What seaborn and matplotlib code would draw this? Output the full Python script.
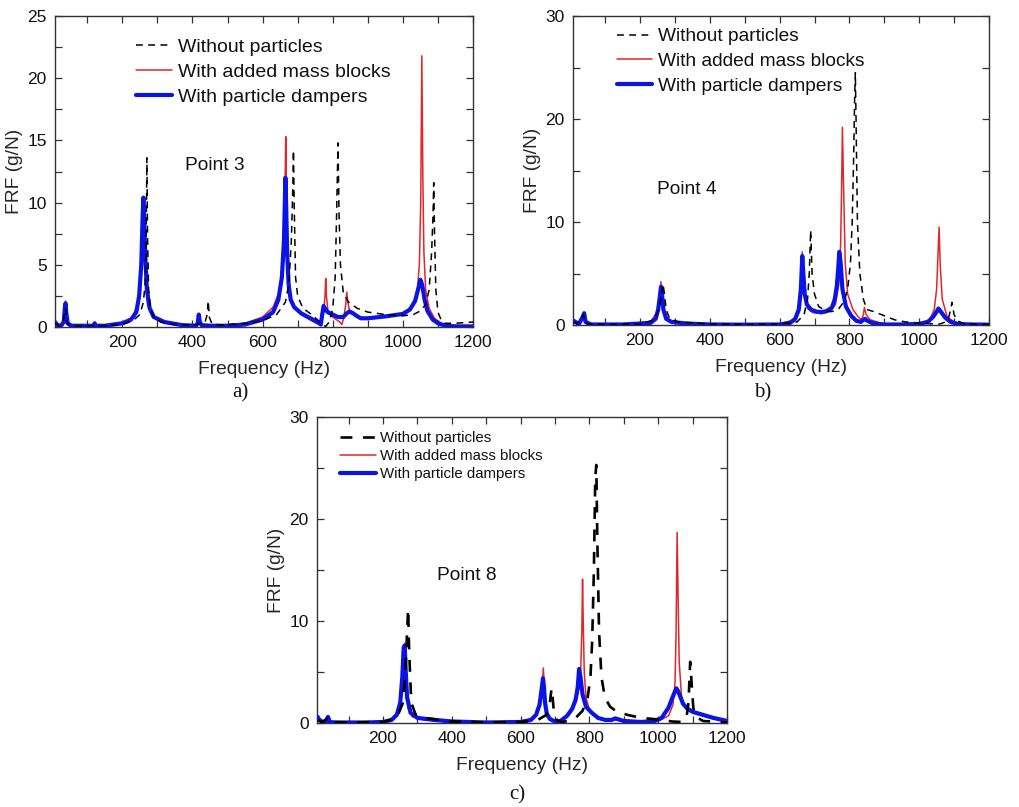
import numpy as np
import pandas as pd
import matplotlib
matplotlib.use("Agg")
import matplotlib.pyplot as plt
from matplotlib.ticker import MultipleLocator
import seaborn as sns

# ---------------- data ----------------
# Panel a) Point 3
a_black_f = [8, 20, 30, 38, 42, 50, 100, 150, 200, 230, 250, 260, 265, 268, 270, 272, 275, 280, 290, 310, 350, 400,
             435, 442, 445, 448, 455, 480, 550, 600, 640, 665, 675, 682, 686, 688, 690, 694, 700, 715, 740, 760, 770,
             780, 790, 800, 807, 811, 815, 818, 822, 830, 845, 870, 900, 950, 1000, 1030, 1050, 1065, 1075, 1082,
             1086, 1088, 1090, 1094, 1100, 1110, 1120, 1150, 1200]
a_black_v = [0.3, 0.1, 0.2, 1.5, 0.3, 0.1, 0.1, 0.1, 0.2, 0.5, 1.0, 2.0, 3.5, 7, 13.6, 7, 3, 1.5, 0.8, 0.4, 0.2, 0.15,
             0.3, 1.0, 2.1, 0.8, 0.3, 0.15, 0.3, 0.5, 1.0, 2.0, 3.5, 7, 11, 14.2, 10, 4, 2.5, 1.5, 1.0, 0.5, 0.2,
             0.05, 0.4, 1.5, 4, 9, 14.8, 9, 5, 2.8, 2.0, 1.5, 1.2, 1.0, 0.9, 1.0, 1.3, 1.8, 3, 6,
             9, 11.6, 8, 3, 1.2, 0.5, 0.3, 0.3, 0.4]

a_red_f = [8, 20, 30, 38, 42, 50, 100, 150, 200, 230, 245, 252, 256, 260, 263, 266, 272, 285, 310, 350, 400, 414, 418,
           422, 430, 500, 550, 600, 630, 650, 658, 663, 666, 668, 670, 673, 678, 690, 710, 740, 760, 768, 774, 778,
           780, 782, 786, 795, 810, 820, 826, 832, 837, 840, 843, 848, 860, 880, 900, 950, 1000, 1025, 1040, 1047,
           1051, 1054, 1057, 1060, 1065, 1075, 1090, 1110, 1130, 1160, 1200]
a_red_v = [0.5, 0.1, 0.2, 2.1, 0.3, 0.1, 0.1, 0.1, 0.3, 0.8, 2.0, 4, 7, 10.2, 8, 4, 1.8, 0.8, 0.4, 0.15, 0.1, 0.3, 0.9,
           0.3, 0.1, 0.1, 0.3, 0.8, 1.6, 3, 5, 9, 15.3, 11, 7, 4, 2.5, 1.6, 1.0, 0.5, 0.2, 0.3, 1.2, 2.5,
           3.9, 2.5, 1.4, 0.9, 0.6, 0.4, 0.2, 0.8, 1.8, 2.8, 2.0, 1.3, 1.0, 0.7, 0.7, 0.8, 1.1, 1.6, 2.5, 5,
           10, 21.8, 12, 6, 3, 1.5, 0.7, 0.3, 0.15, 0.1, 0.05]

a_blue_f = [8, 15, 25, 33, 36, 38, 40, 44, 55, 100, 118, 121, 124, 150, 200, 225, 240, 248, 254, 258, 260, 262, 265,
            270, 278, 290, 320, 370, 410, 415, 418, 421, 426, 450, 500, 550, 600, 630, 645, 655, 661, 665, 667, 670,
            674, 680, 690, 710, 730, 750, 762, 766, 770, 774, 778, 785, 800, 815, 830, 840, 848, 858, 868, 880, 900,
            950, 1000, 1020, 1035, 1045, 1050, 1055, 1062, 1070, 1085, 1100, 1120, 1150, 1200]
a_blue_v = [0.4, 0.15, 0.1, 0.4, 1.5, 1.9, 1.2, 0.3, 0.1, 0.1, 0.1, 0.3, 0.1, 0.1, 0.3, 0.6, 1.2, 2.5, 5, 9, 10.4, 9, 6,
            3, 1.5, 0.8, 0.4, 0.15, 0.1, 0.3, 1.0, 0.4, 0.15, 0.1, 0.1, 0.2, 0.6, 1.2, 2.2, 4, 7, 12, 10, 6,
            3.5, 2.2, 1.6, 1.1, 0.8, 0.5, 0.3, 0.2, 1.0, 1.7, 1.5, 1.2, 1.0, 0.8, 0.8, 1.1, 1.25, 1.1, 0.9, 0.7, 0.7,
            0.85, 1.05, 1.4, 2.1, 3.2, 3.8, 3.4, 2.2, 1.3, 0.6, 0.3, 0.1, 0.05, 0.05]

# Panel b) Point 4
b_black_f = [10, 20, 38, 42, 50, 100, 200, 240, 255, 262, 266, 270, 275, 285, 310, 400, 500, 600, 650, 670, 680, 685,
             689, 693, 700, 712, 730, 750, 770, 785, 795, 803, 808, 812, 815, 817, 819, 823, 830, 840, 850, 870, 900,
             930, 960, 1000, 1040, 1060, 1075, 1085, 1090, 1094, 1100, 1110, 1130, 1200]
b_black_v = [0.3, 0.1, 1.0, 0.2, 0.1, 0.05, 0.1, 0.5, 1.5, 3.0, 4.0, 3.0, 1.5, 0.6, 0.3, 0.1, 0.05, 0.1, 0.3, 1.0, 2.5,
             5, 9.2, 5, 3, 1.8, 1.4, 1.3, 1.6, 2.3, 3.5, 6, 10, 16, 22, 24.5, 20, 10, 5, 2.5, 1.5, 1.3, 0.9,
             0.5, 0.3, 0.2, 0.1, 0.1, 0.3, 0.8, 1.5, 2.2, 1.0, 0.4, 0.1, 0.05]

b_red_f = [10, 20, 36, 40, 44, 60, 150, 230, 248, 256, 260, 263, 268, 280, 310, 400, 500, 600, 640, 652, 660, 665, 668,
           672, 680, 695, 720, 745, 760, 770, 775, 778, 780, 783, 788, 795, 810, 825, 835, 840, 843, 848, 860, 880,
           900, 950, 1000, 1030, 1043, 1050, 1054, 1057, 1060, 1066, 1080, 1100, 1130, 1200]
b_red_v = [0.3, 0.1, 0.8, 1.1, 0.3, 0.05, 0.05, 0.3, 1.2, 2.5, 4.2, 3, 1.2, 0.5, 0.2, 0.05, 0.05, 0.1, 0.5, 1.5, 3.5,
           7.1, 5, 2.6, 1.6, 1.2, 1.1, 1.3, 2, 4, 8, 14, 19.2, 14, 6, 3, 1.5, 0.8, 0.5, 1.0, 1.7, 1.0, 0.5, 0.3,
           0.1, 0.1, 0.15, 0.5, 1.5, 3.5, 7, 9.5, 6, 2.5, 0.8, 0.3, 0.1, 0.05]

b_blue_f = [10, 15, 25, 36, 40, 44, 60, 150, 230, 245, 252, 257, 260, 263, 267, 275, 290, 330, 400, 500, 600, 630, 645,
            655, 661, 665, 668, 672, 678, 690, 705, 720, 735, 750, 758, 764, 768, 771, 775, 780, 790, 805, 820, 833,
            840, 845, 852, 865, 880, 900, 950, 1000, 1025, 1040, 1050, 1055, 1062, 1075, 1090, 1110, 1150, 1200]
b_blue_v = [0.4, 0.3, 0.1, 0.8, 1.15, 0.3, 0.05, 0.05, 0.2, 0.6, 1.5, 2.8, 3.7, 3.0, 1.5, 0.6, 0.3, 0.15, 0.05, 0.03,
            0.05, 0.2, 0.6, 1.5, 3.5, 6.7, 5, 3, 2.0, 1.5, 1.3, 1.25, 1.35, 1.7, 2.5, 3.8, 5.5, 7.1, 6, 3.5, 1.8,
            0.9, 0.4, 0.3, 0.5, 0.6, 0.4, 0.2, 0.1, 0.05, 0.05, 0.1, 0.3, 0.8, 1.3, 1.6, 1.3, 0.7, 0.3, 0.1, 0.05,
            0.03]

# Panel c) Point 8
c_black_f = [10, 20, 30, 40, 50, 100, 200, 240, 258, 265, 270, 273, 276, 282, 295, 320, 400, 500, 600, 650, 675, 685,
             690, 693, 697, 705, 720, 740, 760, 780, 795, 803, 808, 813, 817, 820, 823, 828, 835, 845, 860, 880, 910,
             950, 1000, 1040, 1070, 1082, 1088, 1093, 1097, 1102, 1110, 1130, 1200]
c_black_v = [0.3, 0.1, 0.2, 0.6, 0.1, 0.05, 0.1, 0.5, 2.0, 5, 9, 11.2, 7, 2, 0.8, 0.5, 0.15, 0.05, 0.1, 0.3, 0.8, 2,
             3.4, 2.5, 1.0, 0.3, 0.1, 0.2, 0.5, 1.2, 2.5, 4.5, 8, 15, 24, 25.3, 18, 9, 4.5, 2.5, 1.6, 1.1, 0.8,
             0.5, 0.35, 0.15, 0.1, 0.5, 2, 6.0, 4, 1.5, 0.6, 0.2, 0.05]

c_red_f = [10, 20, 40, 50, 150, 220, 245, 255, 260, 263, 266, 272, 285, 320, 400, 500, 600, 640, 655, 662, 666, 669,
           672, 678, 690, 700, 720, 745, 760, 770, 775, 778, 780, 782, 785, 790, 800, 820, 850, 870, 880, 900, 950,
           970, 1000, 1030, 1043, 1049, 1052, 1055, 1058, 1061, 1068, 1080, 1100, 1130, 1160, 1200]
c_red_v = [0.5, 0.1, 0.5, 0.1, 0.05, 0.2, 1.2, 3.5, 7.5, 7.8, 5, 1.5, 0.6, 0.3, 0.1, 0.05, 0.1, 0.5, 1.5, 3, 5.4, 3.5,
           1.5, 0.6, 0.2, 0.15, 0.3, 1.0, 2.0, 3.5, 5.5, 9, 14.1, 10, 5, 2.5, 1.3, 0.6, 0.3, 0.35, 0.3, 0.15, 0.05,
           0.05, 0.2, 0.7, 1.8, 4, 9, 18.7, 12, 6, 2.5, 1.4, 1.0, 0.7, 0.45, 0.15]

c_blue_f = [10, 15, 25, 35, 40, 45, 60, 150, 200, 225, 240, 250, 256, 260, 263, 266, 270, 280, 300, 350, 400, 500, 600,
            630, 645, 655, 661, 665, 668, 671, 676, 685, 700, 710, 720, 735, 750, 760, 766, 770, 774, 780, 790, 807,
            825, 846, 865, 875, 885, 900, 950, 990, 1010, 1030, 1045, 1053, 1058, 1064, 1072, 1085, 1100, 1130, 1160,
            1200]
c_blue_v = [0.6, 0.3, 0.1, 0.2, 0.6, 0.1, 0.05, 0.05, 0.1, 0.3, 0.8, 2, 4.5, 7.4, 7.6, 5, 2.5, 1.0, 0.5, 0.3, 0.15,
            0.05, 0.1, 0.3, 0.8, 1.8, 3.3, 4.4, 3.5, 2.0, 0.9, 0.4, 0.15, 0.1, 0.3, 0.7, 1.4, 2.3, 3.5, 5.3, 4.5, 2.8,
            1.6, 1.0, 0.5, 0.3, 0.3, 0.45, 0.35, 0.2, 0.1, 0.2, 0.5, 1.5, 2.8, 3.4, 3.1, 2.6, 1.9, 1.4, 1.1, 0.8, 0.5,
            0.2]

series_labels = ["Without particles", "With added mass blocks", "With particle dampers"]
point_labels = ["Point 3", "Point 4", "Point 8"]
panel_tags = ["a)", "b)", "c)"]
x_ticks = [200, 400, 600, 800, 1000, 1200]

# ---------------- styling ----------------
sns.set_style("ticks")
plt.rcParams["font.family"] = ["Liberation Sans", "DejaVu Sans"]
plt.rcParams["axes.linewidth"] = 1.0
plt.rcParams["axes.edgecolor"] = "#333333"

RED = "#e0262b"
BLUE = "#0a14e6"

fig = plt.figure(figsize=(10.2, 8.07), dpi=100)

panels = [
    dict(rect=[55 / 1020, 1 - 327 / 807, 418 / 1020, 311 / 807], ymax=25, ymaj=5, ymin=2.5,
         data=[(a_black_f, a_black_v), (a_red_f, a_red_v), (a_blue_f, a_blue_v)],
         text_xy=(215, 165), tag_xy=(240, 393), leg_fs=14, leg_anchor=(136, 38), dash=(0, (4.5, 3.5)), blw=1.1,
         leg_hl=1.85, leg_sp=0.38),
    dict(rect=[573 / 1020, 1 - 325 / 807, 416 / 1020, 309 / 807], ymax=30, ymaj=10, ymin=5,
         data=[(b_black_f, b_black_v), (b_red_f, b_red_v), (b_blue_f, b_blue_v)],
         text_xy=(687, 190), tag_xy=(763, 393), leg_fs=13.8, leg_anchor=(617, 28), dash=(0, (4.5, 3.5)), blw=1.1,
         leg_hl=1.85, leg_sp=0.38),
    dict(rect=[317 / 1020, 1 - 723 / 807, 410 / 1020, 306 / 807], ymax=30, ymaj=10, ymin=5,
         data=[(c_black_f, c_black_v), (c_red_f, c_red_v), (c_blue_f, c_blue_v)],
         text_xy=(467, 575), tag_xy=(517, 795), leg_fs=10.8, leg_anchor=(340, 431), dash=(0, (4.5, 4)), blw=1.9,
         leg_hl=2.4, leg_sp=0.27),
]

for i, p in enumerate(panels):
    ax = fig.add_axes(p["rect"])
    (bf, bv), (rf, rv), (uf, uv) = p["data"]
    sns.lineplot(x=bf, y=bv, ax=ax, color="black", lw=p["blw"], linestyle=p["dash"], label=series_labels[0],
                 estimator=None, zorder=4)
    sns.lineplot(x=rf, y=rv, ax=ax, color=RED, lw=1.1, label=series_labels[1], estimator=None, zorder=2)
    sns.lineplot(x=uf, y=uv, ax=ax, color=BLUE, lw=3.0, label=series_labels[2], estimator=None, zorder=3)

    ax.set_xlim(8, 1200)
    ax.set_ylim(0, p["ymax"])
    ax.set_xticks(x_ticks)
    ax.xaxis.set_minor_locator(MultipleLocator(100))
    ax.yaxis.set_major_locator(MultipleLocator(p["ymaj"]))
    ax.yaxis.set_minor_locator(MultipleLocator(p["ymin"]))
    ax.tick_params(which="both", direction="in", top=True, right=True, labelsize=12.5, colors="#333333",
                   labelcolor="#111111", pad=6)
    ax.tick_params(which="major", length=5, width=0.9)
    ax.tick_params(which="minor", length=5, width=0.9)
    for s in ax.spines.values():
        s.set_visible(True)
    ax.set_xlabel("Frequency (Hz)", fontsize=13.8, labelpad=7.5)
    ax.set_ylabel("FRF (g/N)", fontsize=13.8, labelpad=3)

    ax.text(p["text_xy"][0] / 1020, 1 - p["text_xy"][1] / 807, point_labels[i], transform=fig.transFigure,
            ha="center", va="center", fontsize=13.8, color="#111111")
    fig.text(p["tag_xy"][0] / 1020, 1 - p["tag_xy"][1] / 807, panel_tags[i], ha="center", va="center",
             fontsize=15, family="Liberation Serif", color="#111111")

    lx, ly = p["leg_anchor"]
    leg = ax.legend(loc="upper left", bbox_to_anchor=(lx / 1020, 1 - ly / 807), bbox_transform=fig.transFigure,
                    frameon=False, fontsize=p["leg_fs"], handlelength=p["leg_hl"], handletextpad=0.3,
                    labelspacing=p["leg_sp"], borderpad=0, borderaxespad=0)
    for t in leg.get_texts():
        t.set_color("#111111")

fig.savefig("out.png", dpi=100, facecolor="white")
